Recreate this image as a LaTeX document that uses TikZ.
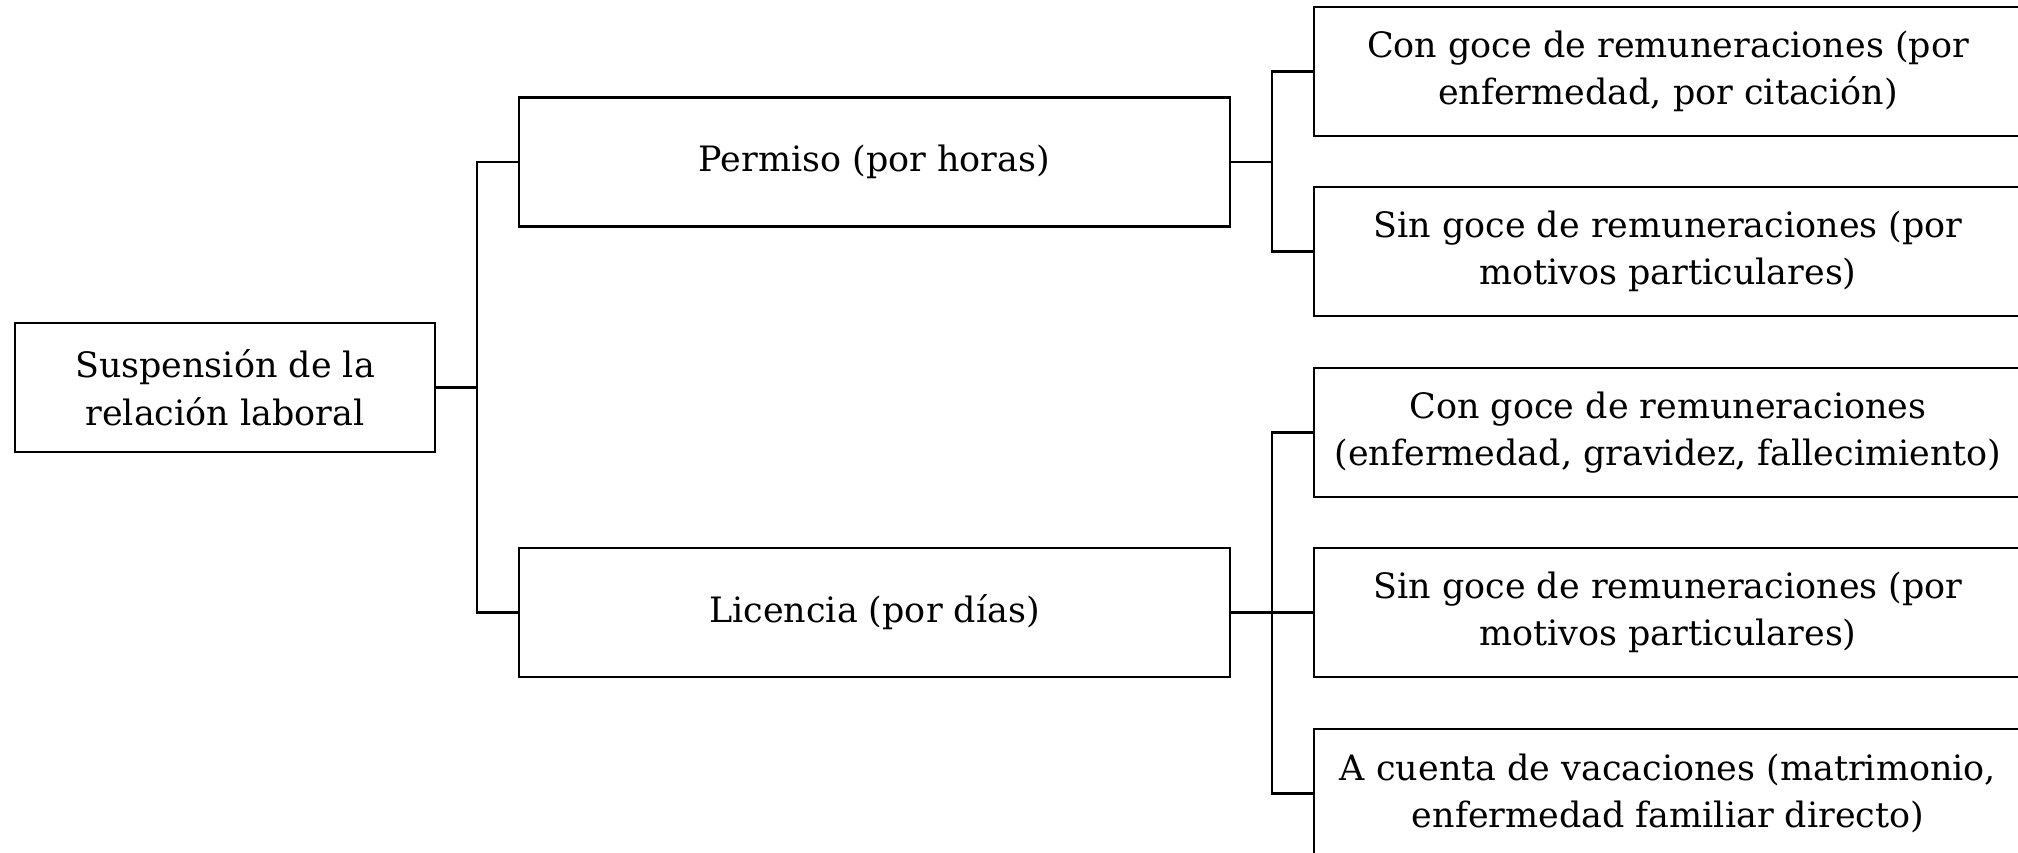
\documentclass[tikz,border=0pt]{standalone}
\usepackage{fontspec}
\setmainfont{DejaVu Serif}
\tikzset{
  box/.style={draw=black, line width=1.6pt, rectangle, align=center, inner sep=0pt,
    font=\fontsize{26.2}{35.7}\selectfont, minimum height=129*0.75pt},
  conn/.style={draw=black, line width=1.6pt}
}
\begin{document}
\begin{tikzpicture}[x=0.75pt, y=-0.75pt]
\useasboundingbox (0,0) rectangle (2018,853);
\node[box, minimum width=420*0.75pt] (root) at (225,387.5) {Suspensión de la\\relación laboral};
\node[box, minimum width=711*0.75pt] (perm) at (874.5,162) {Permiso (por horas)};
\node[box, minimum width=711*0.75pt] (lic) at (874.5,612.5) {Licencia (por días)};
\node[box, minimum width=708*0.75pt] (r1) at (1668,71.5) {Con goce de remuneraciones (por\\enfermedad, por citación)};
\node[box, minimum width=708*0.75pt] (r2) at (1668,251.5) {Sin goce de remuneraciones (por\\motivos particulares)};
\node[box, minimum width=708*0.75pt] (r3) at (1668,432.5) {Con goce de remuneraciones\\(enfermedad, gravidez, fallecimiento)};
\node[box, minimum width=708*0.75pt] (r4) at (1668,612.5) {Sin goce de remuneraciones (por\\motivos particulares)};
\node[box, minimum width=708*0.75pt] (r5) at (1668,793.5) {A cuenta de vacaciones (matrimonio,\\enfermedad familiar directo)};
\coordinate (b1) at (477,387.5);
\coordinate (b2) at (1272,162);
\coordinate (b3) at (1272,612.5);
\draw[conn] (root.east) -- (b1);
\draw[conn] (perm.west) -| (b1);
\draw[conn] (lic.west) -| (b1);
\draw[conn] (perm.east) -- (b2);
\draw[conn] (r1.west) -| (b2);
\draw[conn] (r2.west) -| (b2);
\draw[conn] (lic.east) -- (b3);
\draw[conn] (r3.west) -| (b3);
\draw[conn] (r4.west) -| (b3);
\draw[conn] (r5.west) -| (b3);
\end{tikzpicture}
\end{document}
